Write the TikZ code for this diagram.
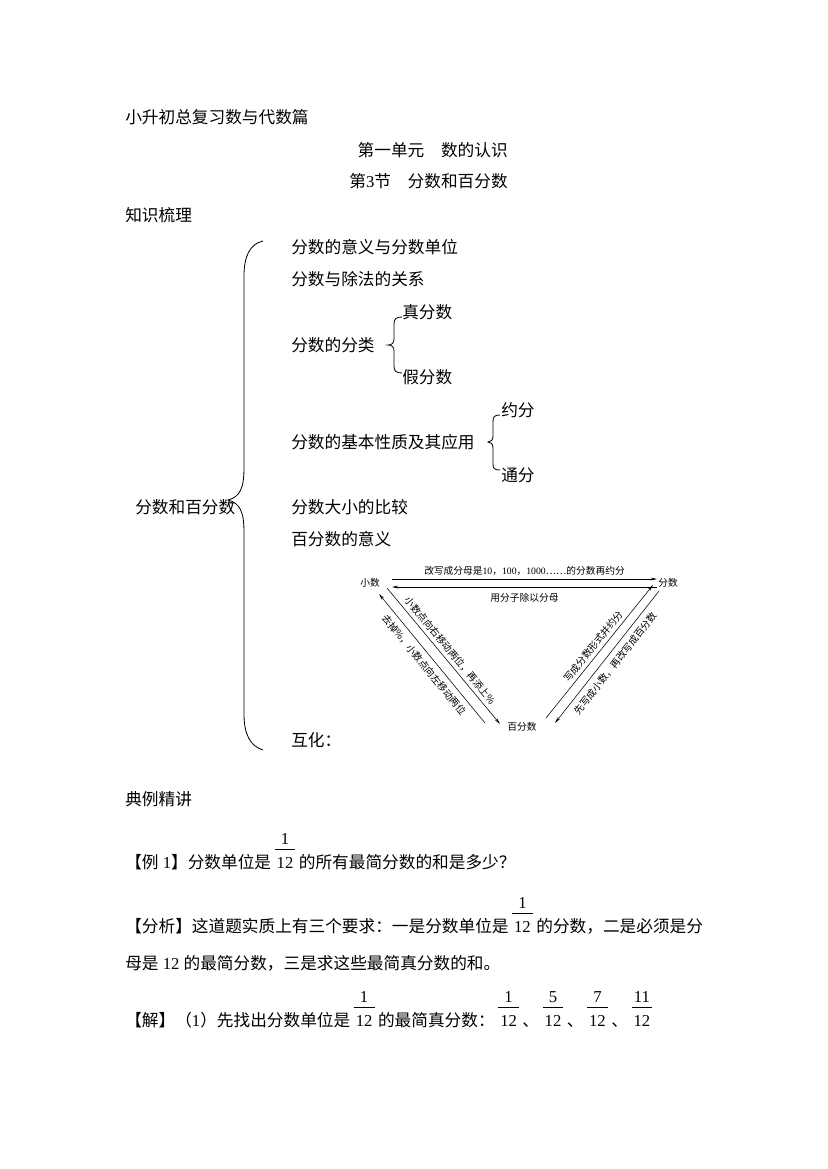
\documentclass[tikz,border=0pt]{standalone}
\usepackage{fontspec}
\setmainfont{Noto Sans CJK SC}
\newfontfamily\lat{Liberation Serif}
\usetikzlibrary{arrows.meta}

\tikzset{
  texto/.style={anchor=base west, inner sep=0pt, font=\fontsize{12}{14.5}\selectfont},
  rotulo/.style={inner sep=1pt, font=\fontsize{7}{8}\selectfont},
  llave/.style={line width=0.6pt},
  flecha/.style={-{Stealth[length=4.5pt,width=2pt]}, line width=0.4pt},
  flechai/.style={{Stealth[length=4.5pt,width=2pt]}-, line width=0.4pt},
}
\newcommand\fenshu[2]{\hspace{2.5pt}\begin{tabular}[b]{@{\hspace{1.5pt}}c@{\hspace{1.5pt}}}\lat #1\\[-1.5pt]\hline\rule{0pt}{13.5pt}\lat #2\end{tabular}\hspace{2.5pt}}

\begin{document}
\begin{tikzpicture}[x=0.72pt,y=-0.72pt]
    \useasboundingbox (0,0) rectangle (827,1169);
    % Titulos
    \node[texto] (titulo) at (125,123) {小升初总复习数与代数篇};
    \node[texto,anchor=base east] (unidad) at (508,156) {第一单元　数的认识};
    \node[texto,anchor=base east] (seccion) at (508,187) {第{\lat 3}节　分数和百分数};
    \node[texto] (repaso) at (125,221) {知识梳理};
    % Ramas
    \node[texto] (raiz) at (135,513) {分数和百分数};
    \node[texto] (r1) at (291,253) {分数的意义与分数单位};
    \node[texto] (r2) at (291,285) {分数与除法的关系};
    \node[texto] (r3) at (291,351) {分数的分类};
    \node[texto] (r3a) at (402,318) {真分数};
    \node[texto] (r3b) at (402,383) {假分数};
    \node[texto] (r4) at (291,448) {分数的基本性质及其应用};
    \node[texto] (r4a) at (501,416) {约分};
    \node[texto] (r4b) at (501,481) {通分};
    \node[texto] (r5) at (291,513) {分数大小的比较};
    \node[texto] (r6) at (291,545) {百分数的意义};
    \node[texto] (r7) at (291,746) {互化：};
    % Llave principal
    \draw[llave] (263,241) .. controls (250,244) and (244,256) .. (244,276) -- (244,468)
        .. controls (244,488) and (240,497) .. (228,500) .. controls (240,503) and (244,512) .. (244,532)
        -- (244,714) .. controls (244,734) and (250,746) .. (263,750);
    % Llaves pequenas
    \draw[llave] (402,317) .. controls (396,317) and (394,319) .. (394,324) -- (394,339)
        .. controls (394,343) and (392,345) .. (388,345) .. controls (392,345) and (394,347) .. (394,351)
        -- (394,366) .. controls (394,371) and (396,373) .. (402,373);
    \draw[llave] (500,415) .. controls (494,415) and (493,417) .. (493,422) -- (493,436)
        .. controls (493,440) and (491,442) .. (488,442) .. controls (491,442) and (493,444) .. (493,448)
        -- (493,464) .. controls (493,468) and (494,470) .. (500,470);
    % Triangulo
    \node[rotulo] (xs) at (370,583) {小数};
    \node[rotulo] (fs) at (668,583) {分数};
    \node[rotulo] (bfs) at (522,727) {百分数};
    \draw[flecha] ([shift={(22,-4)}]xs.center) -- node[rotulo,above=1.5pt] {改写成分母是{\lat 10}，{\lat 100}，{\lat 1000}……的分数再约分} ([shift={(-11,-4)}]fs.center);
    \draw[flechai] ([shift={(22,4)}]xs.center) -- node[rotulo,below=3pt] {用分子除以分母} ([shift={(-11,4)}]fs.center);
    \draw[flecha] ([shift={(17,5)}]xs.center) -- node[rotulo,sloped,above=1.5pt] {小数点向右移动两位，再添上\%} ([shift={(-22,-3)}]bfs.center);
    \draw[flechai] ([shift={(9,11)}]xs.center) -- node[rotulo,sloped,below=3pt] {去掉\%，小数点向左移动两位} ([shift={(-37,-4)}]bfs.center);
    \draw[flecha] ([shift={(24,-9)}]bfs.center) -- node[rotulo,sloped,above=1.5pt] {写成分数形式并约分} ([shift={(-15,2)}]fs.center);
    \draw[flechai] ([shift={(33,-4)}]bfs.center) -- node[rotulo,sloped,below=3pt] {先写成小数，再改写成百分数} ([shift={(-9,8)}]fs.center);
    % Ejemplo
    \node[texto] (ejemplos) at (125,805) {典例精讲};
    \node[texto] (ej1) at (125,868) {【例{\lat\ 1}】分数单位是\fenshu{1}{12}的所有最简分数的和是多少？};
    \node[texto] (analisis) at (125,932) {【分析】这道题实质上有三个要求：一是分数单位是\fenshu{1}{12}的分数，二是必须是分};
    \node[texto] (analisis2) at (125,969) {母是{\lat\ 12 }的最简分数，三是求这些最简真分数的和。};
    \node[texto] (sol) at (125,1026) {【解】（{\lat 1}）先找出分数单位是\fenshu{1}{12}的最简真分数：\fenshu{1}{12}、\fenshu{5}{12}、\fenshu{7}{12}、\fenshu{11}{12}};
\end{tikzpicture}
\end{document}
